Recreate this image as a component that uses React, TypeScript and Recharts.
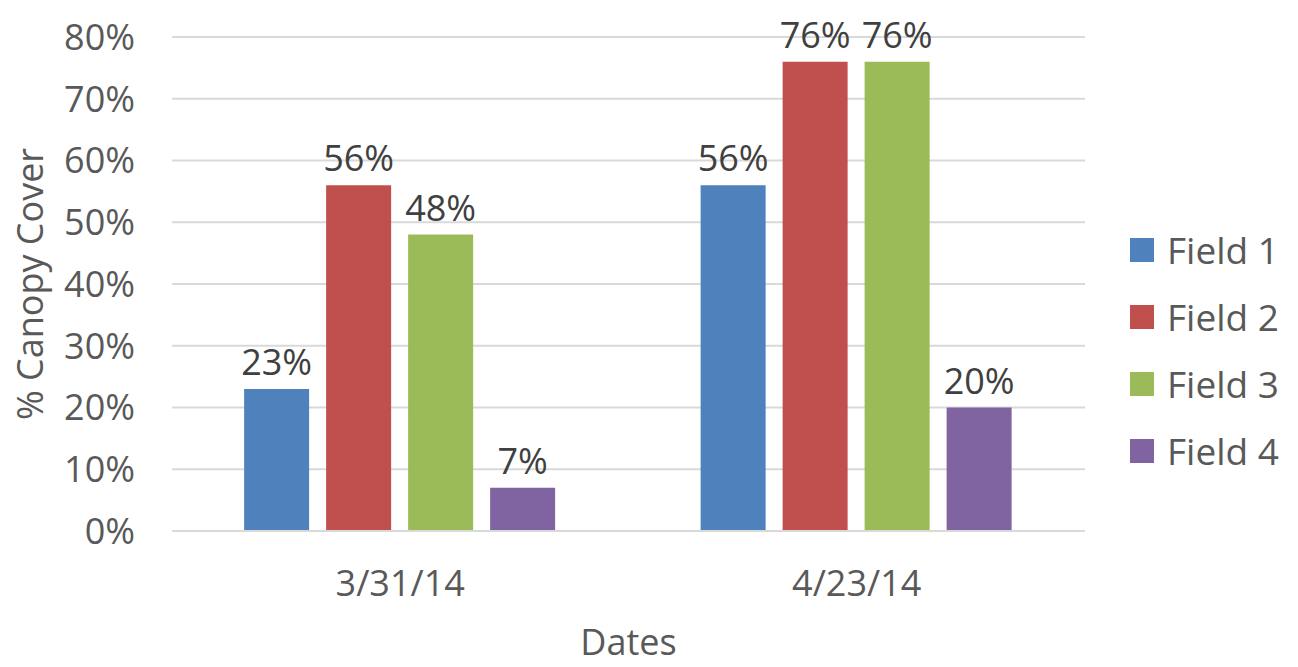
import { Bar, BarChart, CartesianGrid, LabelList, XAxis, YAxis } from 'recharts'

const FONT = '"Open Sans", sans-serif'
const TEXT = '#595959'
const GRID = '#d9d9d9'
const FS = 36

const fechas = ['3/31/14', '4/23/14']
const field1 = [23, 56]
const field2 = [56, 76]
const field3 = [48, 76]
const field4 = [7, 20]
const yTicks = [0, 10, 20, 30, 40, 50, 60, 70, 80]

const SERIES = [
  { key: 'f1', name: 'Field 1', color: '#4f81bd', values: field1 },
  { key: 'f2', name: 'Field 2', color: '#c0504d', values: field2 },
  { key: 'f3', name: 'Field 3', color: '#9bbb59', values: field3 },
  { key: 'f4', name: 'Field 4', color: '#8064a2', values: field4 },
]

const data = fechas.map((fecha, i) => {
  const row: Record<string, string | number> = { fecha }
  SERIES.forEach((s) => {
    row[s.key] = s.values[i]
  })
  return row
})

function LegendBox() {
  return (
    <div
      style={{
        position: 'absolute',
        left: 1130,
        top: 216,
        fontFamily: FONT,
        fontSize: 37,
        color: TEXT,
        lineHeight: 1,
      }}
    >
      {SERIES.map((s) => (
        <div key={s.key} style={{ display: 'flex', alignItems: 'center', height: 67 }}>
          <span style={{ width: 24, height: 24, background: s.color, marginRight: 13 }} />
          <span>{s.name}</span>
        </div>
      ))}
    </div>
  )
}

export default function App() {
  return (
    <div style={{ position: 'absolute', left: 0, top: 0, width: 1298, height: 667, background: '#fff' }}>
      <BarChart
        width={1298}
        height={667}
        data={data}
        margin={{ top: 37, right: 213, left: 0, bottom: 0 }}
        barCategoryGap="15.8%"
        barGap={17}
      >
        <CartesianGrid stroke={GRID} strokeWidth={2} vertical={false} />
        <XAxis
          dataKey="fecha"
          height={136}
          tickLine={false}
          axisLine={{ stroke: GRID, strokeWidth: 2 }}
          tick={{ fill: TEXT, fontSize: FS, fontFamily: FONT }}
          tickMargin={33}
          label={{
            value: 'Dates',
            position: 'insideBottom',
            offset: 12,
            fill: TEXT,
            fontSize: FS,
            fontFamily: FONT,
          }}
        />
        <YAxis
          width={172}
          domain={[0, 80]}
          ticks={yTicks}
          tickFormatter={(v) => `${v}%`}
          tickLine={false}
          axisLine={false}
          tick={{ fill: TEXT, fontSize: FS, fontFamily: FONT }}
          tickMargin={31}
          label={{
            value: '% Canopy Cover',
            angle: -90,
            position: 'insideLeft',
            offset: 30,
            style: { textAnchor: 'middle' },
            fill: TEXT,
            fontSize: FS,
            fontFamily: FONT,
          }}
        />
        {SERIES.map((s) => (
          <Bar key={s.key} dataKey={s.key} name={s.name} fill={s.color} isAnimationActive={false}>
            <LabelList
              dataKey={s.key}
              position="top"
              offset={14}
              formatter={(v: number) => `${v}%`}
              fill="#404040"
              fontSize={FS}
              fontFamily={FONT}
            />
          </Bar>
        ))}
      </BarChart>
      <LegendBox />
    </div>
  )
}
